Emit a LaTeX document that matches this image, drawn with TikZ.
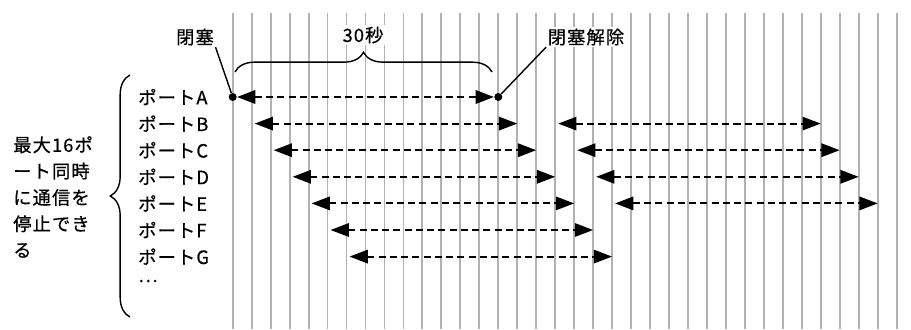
\documentclass[tikz,border=0pt]{standalone}
\usepackage{fontspec}
\setmainfont{Noto Sans CJK JP}[AutoFakeBold=0.6,LetterSpace=6]
\usetikzlibrary{arrows.meta,decorations.pathreplacing}

\begin{document}
\begin{tikzpicture}[x=0.025cm,y=-0.025cm,font=\fontsize{13}{18.7}\selectfont\bfseries,
  gridline/.style={draw=black!30,line width=1.3pt},
  portarrow/.style={{Triangle[length=13pt,width=9.5pt]}-{Triangle[length=13pt,width=9.5pt]},dash pattern=on 5pt off 3pt,line width=1.4pt},
  blkdot/.style={circle,fill=black,inner sep=0pt,minimum size=0.2cm},
  portlabel/.style={anchor=west,inner sep=0pt},
  callout/.style={fill=white,inner sep=1pt},
  bracket/.style={decorate,decoration={brace,amplitude=14pt},line width=1pt}]
\useasboundingbox (0,0) rectangle (911,329);
% time grid
\foreach \i in {0,...,35}
  \draw[gridline] ({232.7+18.97*\i},13) -- ({232.7+18.97*\i},329);
% ports
\foreach \n [count=\k from 0] in {A,...,G}
  \node[portlabel] (p\n) at (138,{97+26.6*\k}) {ポート\n};
\node[portlabel] (pmore) at (138,281) {…};
% port A: blocked for 30 s
\node[blkdot] (blk) at (232.7,97) {};
\node[blkdot] (rel) at ({232.7+18.97*14},97) {};
\draw[portarrow] (blk) -- (rel);
% other ports
\foreach \k in {1,...,6} {
  \coordinate (s\k) at ({235.7+18.97*\k},{97+26.6*\k});
  \coordinate (e\k) at ({232.7+18.97*(\k+14)},{97+26.6*\k});
  \draw[portarrow] (s\k) -- (e\k);
}
\foreach \k in {1,...,4} {
  \coordinate (ss\k) at ({235.7+18.97*(\k+16)},{97+26.6*\k});
  \coordinate (ee\k) at ({232.7+18.97*(\k+30)},{97+26.6*\k});
  \draw[portarrow] (ss\k) -- (ee\k);
}
% labels
\node[callout] (blkl) at (195,37) {閉塞};
\node[callout] (rell) at (586,37) {閉塞解除};
\node[callout] (secl) at (363,35) {30秒};
\draw[line width=1pt] (blkl.south east) -- (blk);
\draw[line width=1pt] (rell.south west) -- (rel);
\coordinate (bt0) at (235,72);
\coordinate (bt1) at (492,72);
\draw[bracket] (bt0) -- (bt1);
% left brace and note
\coordinate (bl0) at (130,317);
\coordinate (bl1) at (130,75);
\draw[bracket] (bl0) -- (bl1);
\node[anchor=west,align=left,inner sep=0pt] (note) at (13,197) {最大16ポ\\ート同時\\に通信を\\停止でき\\る};
\end{tikzpicture}
\end{document}
